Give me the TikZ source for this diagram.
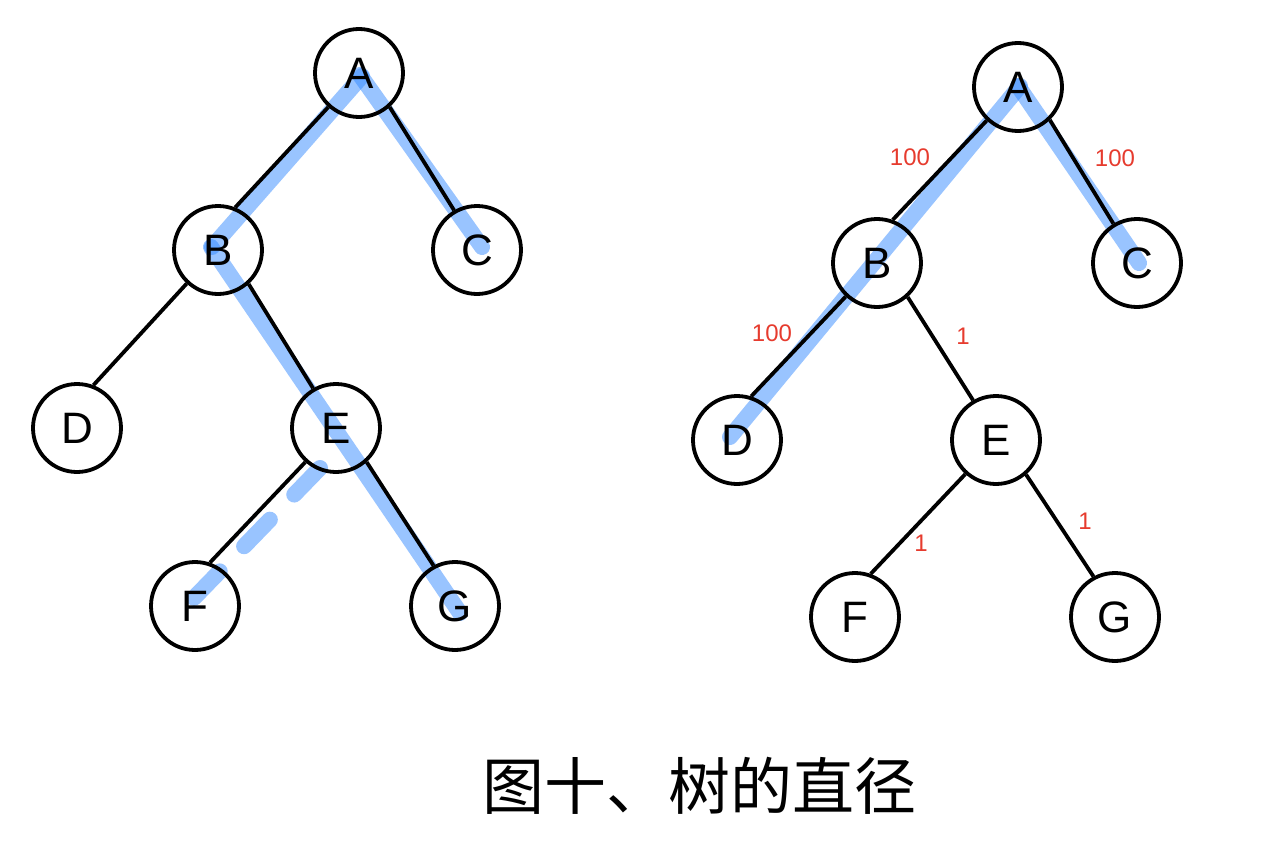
\documentclass[tikz,border=0pt]{standalone}
\usepackage{fontspec}
\setmainfont{Liberation Sans}
\newfontfamily\cjk{Noto Sans CJK SC}
\usetikzlibrary{calc}
\definecolor{hl}{HTML}{3389FF}
\definecolor{lbl}{HTML}{E63B2E}
\tikzset{
  vtx/.style={circle, draw=black, line width=3.8pt, fill=none, minimum size=88pt, inner sep=0pt, font=\fontsize{44}{44}\selectfont},
  edge/.style={draw=black, line width=3.8pt},
  hilite/.style={draw=hl, draw opacity=0.5, line width=16pt, line cap=round},
  hidash/.style={draw=hl, draw opacity=0.5, line width=16pt, line cap=round, dash pattern=on 37pt off 35pt},
  wlbl/.style={text=lbl, font=\fontsize{24}{24}\selectfont, inner sep=0pt}
}
\begin{document}
\begin{tikzpicture}[x=1pt,y=-1pt]
\useasboundingbox (0,0) rectangle (1264,843);
% coordinates (left tree)
\coordinate (pA) at (359,73);
\coordinate (pB) at (218,250);
\coordinate (pC) at (477,250);
\coordinate (pD) at (77,428);
\coordinate (pE) at (336,428);
\coordinate (pF) at (195,606);
\coordinate (pG) at (455,606);
% right tree
\coordinate (qA) at (1018,87);
\coordinate (qB) at (877,263);
\coordinate (qC) at (1137,263);
\coordinate (qD) at (737,440);
\coordinate (qE) at (996,440);
\coordinate (qF) at (855,617);
\coordinate (qG) at (1115,617);
% blue highlights (left)
\draw[hilite] ($(pA)+(3,3)$) -- ($(pB)+(-6,-3)$);
\draw[hilite] ($(pA)+(1,2)$) -- ($(pC)+(5,-3)$);
\draw[hilite] ($(pB)+(-7,-3)$) -- ($(pG)+(5,7)$);
\draw[hidash] ($(pE)+(-16,40)$) -- ($(pF)+(-5,-4)$);
% blue highlights (right)
\draw[hilite] ($(qA)+(2,-1)$) -- ($(qD)+(-7,-3)$);
\draw[hilite] ($(qA)+(0,-1)$) -- ($(qC)+(2,0)$);
% nodes
\foreach \n/\t in {A/A,B/B,C/C,D/D,E/E,F/F,G/G}{
  \node[vtx] (l\n) at (p\n) {\t};
  \node[vtx] (r\n) at (q\n) {\t};
}
% edges (left)
\draw[edge] (lA.228) -- (lB.68);
\draw[edge] (lA.312) -- (lC.120);
\draw[edge] (lB.227) -- (lD.69);
\draw[edge] (lB.312) -- (lE.120);
\draw[edge] (lE.228) -- (lF.71);
\draw[edge] (lE.312) -- (lG.118);
% edges (right)
\draw[edge] (rA.227) -- (rB.70);
\draw[edge] (rA.314) -- (rC.121);
\draw[edge] (rB.227) -- (rD.72);
\draw[edge] (rB.312) -- (rE.120);
\draw[edge] (rE.228) -- (rF.70);
\draw[edge] (rE.311) -- (rG.118);
% weights
\node[wlbl] (w1) at (910,157) {100};
\node[wlbl] (w2) at (1115,158) {100};
\node[wlbl] (w3) at (772,333) {100};
\node[wlbl] (w4) at (963,336) {1};
\node[wlbl] (w5) at (921,543) {1};
\node[wlbl] (w6) at (1085,521) {1};
% caption
\node[font=\cjk\fontsize{62}{62}\selectfont, inner sep=0pt] (cap) at (699,786) {图十、树的直径};
\end{tikzpicture}
\end{document}
